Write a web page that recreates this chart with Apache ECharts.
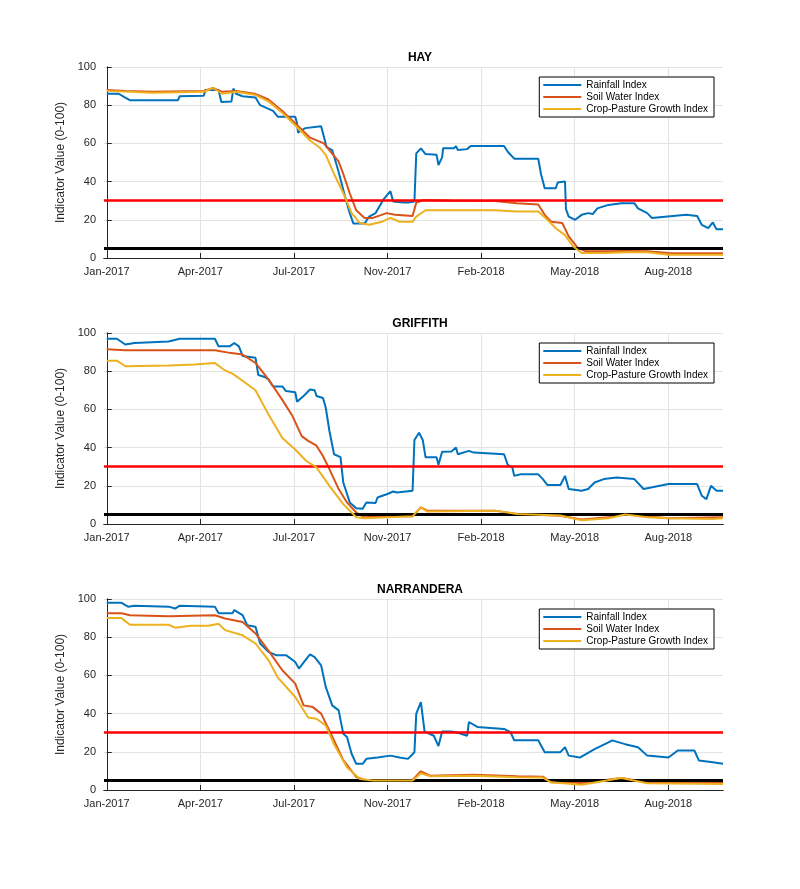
<!DOCTYPE html>
<html><head><meta charset="utf-8">
<script src="https://cdn.jsdelivr.net/npm/echarts@6/dist/echarts.min.js"></script>
<style>html,body{margin:0;background:#fff}#c{width:800px;height:889px}</style>
</head><body><div id="c"></div>
<script>
// x = days since 1 Jan 2017
const tickLabels = ['Jan-2017','Apr-2017','Jul-2017','Nov-2017','Feb-2018','May-2018','Aug-2018'];
const tickStep = 101.3;
const panelTitles = ['HAY','GRIFFITH','NARRANDERA'];
const seriesNames = ['Rainfall Index','Soil Water Index','Crop-Pasture Growth Index'];
const thresholdRed = 30, thresholdBlack = 5;

const hayRain = [[0,86],[13,86],[20,84],[25,82.6],[77,82.6],[79,84.7],[105,85],[107,88],[121,88],[124,81.7],[135,82],[137,88.7],[140,86],[147,84.7],[161,84],[166,80],[180,77],[185,74],[204,74],[206,70.4],[207,65.6],[211,67],[215,68],[232,69],[234,68.7],[238,58],[244,56.5],[251,45],[258,32],[263,23.5],[267,18],[279,18],[284,21.7],[291,23.5],[300,31],[307,35],[310,29.6],[321,29],[326,29],[333,29.6],[335,54.8],[340,57.4],[345,54.4],[357,54],[359,48.7],[363,52.7],[364,57.4],[376,57.5],[378,58.6],[380,56.5],[390,57],[394,58.6],[430,58.6],[434,55.6],[441,52],[467,52],[470,44],[474,36.5],[486,36.5],[488,39.5],[496,40],[497,25.6],[500,21.7],[507,20],[514,22.6],[521,23.5],[526,23],[531,26],[543,27.8],[557,28.7],[571,28.7],[575,26],[585,23.5],[590,21],[627,22.6],[639,22],[644,17.4],[651,15.6],[656,18.6],[660,15],[667,15]];
const haySoil = [[0,88],[20,87.5],[50,87],[105,87.5],[115,89],[125,87],[140,87.5],[160,86],[175,83],[190,77],[205,70],[220,63],[235,60],[251,50.4],[256,44],[263,33.9],[270,25],[279,21],[288,21],[303,23.5],[312,22.6],[331,22],[335,29],[343,30.4],[373,30],[420,29.8],[444,28.7],[467,28],[474,22.6],[481,19],[493,18.3],[500,11.3],[510,5.2],[519,3.5],[538,3.5],[561,3.7],[585,3.5],[608,2.6],[667,2.5]];
const hayCrop = [[0,87.5],[50,86.5],[105,87],[115,89],[125,86],[140,87],[160,85.5],[175,82],[190,76],[205,69],[220,61.5],[230,58],[237,54],[246,44],[256,34],[265,23.5],[274,18.3],[284,17.4],[298,19],[307,21],[317,19],[331,19],[335,21.7],[345,25],[373,25],[420,25],[444,24.3],[467,24.3],[477,20],[486,15.6],[496,12],[505,6],[514,2.6],[538,2.6],[561,3],[585,3],[608,1.7],[667,1.7]];

const grifRain = [[0,97],[11,97],[20,94],[30,94.8],[67,95.6],[79,97],[117,97],[121,93],[133,93],[138,94.8],[143,93],[147,88],[161,87],[164,78],[171,77],[175,75.7],[180,72],[190,72],[194,69.6],[204,69],[206,64],[213,67],[220,70.4],[225,70],[227,67],[234,66],[237,61],[241,48.7],[246,36.5],[253,35],[256,21.7],[263,11.3],[270,8.3],[277,8],[281,11.3],[291,11],[293,13.9],[303,15.6],[310,17],[314,16.5],[331,17.4],[333,44],[338,47.8],[342,44],[345,35],[357,35],[359,31],[363,37.8],[373,38],[378,40],[380,36.5],[392,38.3],[397,37.4],[430,36.5],[434,31],[439,29.6],[441,25.2],[448,26],[467,26],[472,23.5],[477,20.4],[491,20.4],[496,25.2],[500,18.3],[514,17.4],[521,18.3],[528,21.7],[538,23.5],[552,24.3],[571,23.5],[581,18.3],[608,20.9],[639,20.9],[644,14.8],[649,13],[654,20],[660,17.4],[667,17.4]];
const grifSoil = [[0,91.5],[20,91],[117,91],[133,89.6],[147,88.7],[161,84.3],[175,75.7],[190,65],[201,56.5],[211,46],[218,43.5],[227,41],[234,35.6],[241,28.7],[251,18.3],[260,11.3],[270,6],[279,3.5],[303,4],[331,4],[340,8.7],[347,7],[373,7],[420,7],[444,5.2],[491,4.3],[514,2.3],[543,3.5],[561,5.2],[585,4],[608,3],[667,3.5]];
const grifCrop = [[0,85.5],[11,85.5],[20,82.6],[67,83],[95,83.5],[117,84.3],[128,80.4],[136,78.7],[147,75],[161,70],[175,57.4],[190,45],[204,39],[216,33],[227,29.6],[241,20],[256,10.4],[270,3.5],[279,3],[331,4],[340,8.7],[347,6.5],[420,7],[444,5.2],[491,4.5],[514,2],[543,3],[561,5],[585,3.5],[608,3],[656,2.6],[667,3]];

const narrRain = [[0,98],[16,98],[23,96],[30,96.5],[67,96],[74,95],[79,96.5],[117,96],[121,92.5],[136,92.5],[138,94.2],[147,91.6],[152,86.3],[161,85.5],[166,76.7],[175,72.3],[183,70.6],[194,70.6],[204,67],[208,63.6],[215,68],[220,71],[225,69.6],[232,65.3],[237,54],[244,44.3],[251,41.7],[256,29.4],[260,27.7],[265,19],[270,13.7],[277,13.7],[281,16.3],[293,17],[307,18],[317,17],[326,16.3],[333,19.8],[335,40],[340,46],[344,30.6],[354,28.4],[359,23],[363,30.6],[373,30.6],[380,30],[390,28.4],[392,35.6],[401,33],[430,32],[437,30.3],[441,26],[467,26],[474,19.8],[491,19.8],[496,22.4],[500,18],[512,17],[528,21.4],[543,24.9],[547,26],[561,24],[575,22.4],[585,18],[608,17],[618,20.7],[636,20.7],[641,15.4],[656,14.5],[667,13.7]];
const narrSoil = [[0,92.5],[16,92.5],[25,91.5],[67,91],[117,91.5],[128,89.8],[147,88],[161,82],[175,73],[190,62.7],[204,55.7],[213,44.3],[223,43.4],[232,40],[241,31],[256,15.6],[270,6.8],[279,5.3],[331,5.3],[340,9.8],[350,7.5],[397,8],[444,7.2],[472,7],[481,4],[514,3.7],[557,6.3],[585,4],[608,3.7],[667,3.7]];
const narrCrop = [[0,90],[16,90],[25,86.5],[67,86.5],[74,85],[91,86],[110,86],[121,87],[128,83.7],[147,81],[161,76.7],[175,68],[185,59],[204,48.7],[218,38],[227,37.3],[237,33.8],[246,24],[260,11.9],[274,5.8],[288,5],[331,5],[340,8.8],[350,7.2],[397,7.5],[444,6.7],[472,6.5],[481,4],[514,2.8],[557,6.3],[585,3.5],[667,3.2]];

const panels = [[hayRain,haySoil,hayCrop],[grifRain,grifSoil,grifCrop],[narrRain,narrSoil,narrCrop]];
const colors = ['#0072BD','#D95319','#EDB120'];
const tops = [67,333,599];
const H = 191;

const grid=[],xAxis=[],yAxis=[],series=[],title=[],legend=[];
const tickVals = tickLabels.map((_,i)=>i*tickStep);
tops.forEach((t,p)=>{
  grid.push({left:104,right:77,top:t,height:H});
  title.push({text:panelTitles[p],left:415,top:t-20,textAlign:'center',textStyle:{fontSize:12,fontWeight:'bold',color:'#000',fontFamily:'Liberation Sans'}});
  xAxis.push({type:'value',gridIndex:p,min:-3,max:667,
    axisLine:{show:true,onZero:false,lineStyle:{color:'#262626'}},
    axisTick:{show:true,inside:true,customValues:tickVals,lineStyle:{color:'#262626'}},
    axisLabel:{customValues:tickVals,color:'#262626',fontSize:11,fontFamily:'Liberation Sans',
      formatter:v=>tickLabels[Math.round(v/tickStep)]},
    splitLine:{show:true,lineStyle:{color:'#e3e3e3'}}});
  xAxis.push({type:'value',gridIndex:p,position:'top',min:-3,max:667,axisLine:{show:true,lineStyle:{color:'#262626'}},axisTick:{show:false},axisLabel:{show:false},splitLine:{show:false}});
  yAxis.push({type:'value',gridIndex:p,min:0,max:100,interval:20,name:'Indicator Value (0-100)',nameLocation:'middle',nameGap:28,
    nameTextStyle:{fontSize:12,color:'#262626',fontFamily:'Liberation Sans'},
    axisLine:{show:true,lineStyle:{color:'#262626'}},axisTick:{show:true,inside:true},
    axisLabel:{color:'#262626',fontSize:11,fontFamily:'Liberation Sans'},
    splitLine:{show:true,lineStyle:{color:'#e3e3e3'}}});
  yAxis.push({type:'value',gridIndex:p,position:'right',min:0,max:100,axisLine:{show:true,lineStyle:{color:'#262626'}},axisTick:{show:false},axisLabel:{show:false},splitLine:{show:false}});
  const xi=p*2, yi=p*2;
  panels[p].forEach((d,s)=>{
    const ser={name:seriesNames[s],type:'line',xAxisIndex:xi,yAxisIndex:yi,data:d,showSymbol:false,
      lineStyle:{color:colors[s],width:2},itemStyle:{color:colors[s]},z:3+s};
    if(s===0){
      ser.markLine={silent:true,symbol:'none',label:{show:false},data:[
        {yAxis:thresholdRed,lineStyle:{color:'#ff0000',width:2.5,type:'solid'}},
        {yAxis:thresholdBlack,lineStyle:{color:'#000',width:3,type:'solid'}}]};
    }
    series.push(ser);
  });
  legend.push({top:t+10,right:86,orient:'vertical',itemWidth:38,itemHeight:2,itemGap:2,
    borderColor:'#000',borderWidth:1,backgroundColor:'#fff',padding:[3,6,3,4],
    icon:'rect',data:seriesNames,textStyle:{fontSize:10,color:'#000',fontFamily:'Liberation Sans'}});
});
const chart=echarts.init(document.getElementById('c'));
chart.setOption({animation:false,backgroundColor:'#fff',title,grid,xAxis,yAxis,legend,series});
</script></body></html>
